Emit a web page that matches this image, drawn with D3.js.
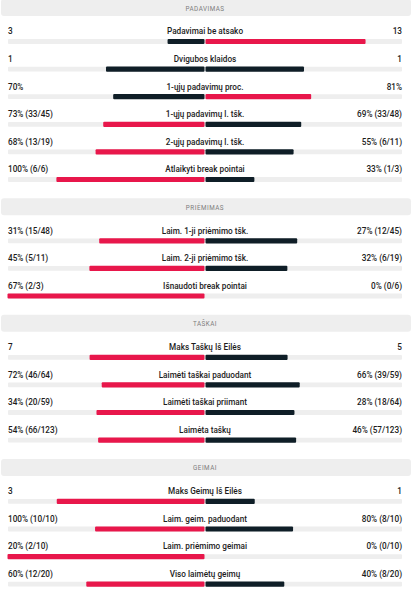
<!DOCTYPE html>
<html>
<head>
<meta charset="utf-8">
<script src="https://cdn.jsdelivr.net/npm/d3@7"></script>
<style>
  body { margin: 0; background: #fff; }
  text { font-family: Roboto, "Noto Sans", sans-serif; }
</style>
</head>
<body>
<div id="chart"></div>
<script>
// sections and rows
var sections = ['PADAVIMAS', 'PRIĖMIMAS', 'TAŠKAI', 'GEIMAI'];
var rowSection = [0, 0, 0, 0, 0, 0, 1, 1, 1, 2, 2, 2, 2, 3, 3, 3, 3];
var rowLabels = [
    'Padavimai be atsako', 'Dvigubos klaidos', '1-ųjų padavimų proc.',
    '1-ųjų padavimų l. tšk.', '2-ųjų padavimų l. tšk.', 'Atlaikyti break pointai',
    'Laim. 1-ji priėmimo tšk.', 'Laim. 2-ji priėmimo tšk.', 'Išnaudoti break pointai',
    'Maks Taškų Iš Eilės', 'Laimėti taškai paduodant', 'Laimėti taškai priimant', 'Laimėta taškų',
    'Maks Geimų Iš Eilės', 'Laim. geim. paduodant', 'Laim. priėmimo geimai', 'Viso laimėtų geimų'
];
var homeText = ['3', '1', '70%', '73% (33/45)', '68% (13/19)', '100% (6/6)',
    '31% (15/48)', '45% (5/11)', '67% (2/3)',
    '7', '72% (46/64)', '34% (20/59)', '54% (66/123)',
    '3', '100% (10/10)', '20% (2/10)', '60% (12/20)'];
var awayText = ['13', '1', '81%', '69% (33/48)', '55% (6/11)', '33% (1/3)',
    '27% (12/45)', '32% (6/19)', '0% (0/6)',
    '5', '66% (39/59)', '28% (18/64)', '46% (57/123)',
    '1', '80% (8/10)', '0% (0/10)', '40% (8/20)'];
var homeValues = [3, 1, 70, 73, 68, 100, 31, 45, 67, 7, 72, 34, 54, 3, 100, 20, 60];
var awayValues = [13, 1, 81, 69, 55, 33, 27, 32, 0, 5, 66, 28, 46, 1, 80, 0, 40];

var w = 413;
var h = 590;
var left = 8, right = 402;
var mid = (left + right) / 2;
var red = '#e8174b', dark = '#0f1e27';

// share of the row total -> half track width
var share = d3.scaleLinear().domain([0, 1]).range([0, mid - left]);

var svg = d3.select('#chart')
    .append('svg')
    .attr('width', w)
    .attr('height', h);

// vertical layout
var headTop = -1, firstRow = 32.3, rowStep = 27.6, afterLast = 29;
var heads = [];
var rowY = [];
var y = headTop;
sections.forEach(function(s, si) {
    heads.push(y);
    var idx = d3.range(rowSection.length).filter(function(i) { return rowSection[i] === si; });
    idx.forEach(function(i, k) { rowY[i] = y + firstRow + k * rowStep; });
    y = rowY[idx[idx.length - 1]] + afterLast;
});

// section headers
var hd = svg.selectAll('g.head')
    .data(sections)
    .enter()
    .append('g')
    .attr('class', 'head')
    .attr('transform', function(d, i) { return 'translate(0,' + heads[i] + ')'; });
hd.append('rect')
    .attr('x', 1).attr('y', 0)
    .attr('width', w - 3).attr('height', 17)
    .attr('rx', 3)
    .attr('fill', '#eeeeee');
hd.append('text')
    .attr('x', mid).attr('y', 9.5)
    .attr('text-anchor', 'middle')
    .attr('dominant-baseline', 'central')
    .attr('font-size', 6.3)
    .attr('letter-spacing', 0.5)
    .attr('fill', '#7d7d7d')
    .text(function(d) { return d; });

// stat rows
var rows = svg.selectAll('g.row')
    .data(rowLabels)
    .enter()
    .append('g')
    .attr('class', 'row')
    .attr('transform', function(d, i) { return 'translate(0,' + rowY[i] + ')'; });

rows.append('text')
    .attr('x', mid).attr('y', 0)
    .attr('text-anchor', 'middle')
    .attr('dominant-baseline', 'central')
    .attr('font-size', 8.2)
    .attr('font-weight', 500)
    .attr('fill', '#1c1c1c')
    .text(function(d) { return d; });
rows.append('text')
    .attr('x', left).attr('y', 0)
    .attr('dominant-baseline', 'central')
    .attr('font-size', 8.2)
    .attr('font-weight', 500)
    .attr('fill', '#1c1c1c')
    .text(function(d, i) { return homeText[i]; });
rows.append('text')
    .attr('x', right).attr('y', 0)
    .attr('text-anchor', 'end')
    .attr('dominant-baseline', 'central')
    .attr('font-size', 8.2)
    .attr('font-weight', 500)
    .attr('fill', '#1c1c1c')
    .text(function(d, i) { return awayText[i]; });

// track
rows.append('rect')
    .attr('x', left).attr('y', 7.8)
    .attr('width', right - left).attr('height', 4.8)
    .attr('rx', 1)
    .attr('fill', '#eeeeee');

// home bar (grows left from middle)
rows.append('rect')
    .attr('x', function(d, i) {
        var t = homeValues[i] + awayValues[i];
        return mid - 0.5 - share(t ? homeValues[i] / t : 0);
    })
    .attr('y', 7.6)
    .attr('width', function(d, i) {
        var t = homeValues[i] + awayValues[i];
        return share(t ? homeValues[i] / t : 0);
    })
    .attr('height', 5.2)
    .attr('rx', 1)
    .attr('fill', function(d, i) { return homeValues[i] > awayValues[i] ? red : dark; });

// away bar (grows right from middle)
rows.append('rect')
    .attr('x', mid + 0.5)
    .attr('y', 7.6)
    .attr('width', function(d, i) {
        var t = homeValues[i] + awayValues[i];
        return share(t ? awayValues[i] / t : 0);
    })
    .attr('height', 5.2)
    .attr('rx', 1)
    .attr('fill', function(d, i) { return awayValues[i] > homeValues[i] ? red : dark; });
</script>
</body>
</html>
